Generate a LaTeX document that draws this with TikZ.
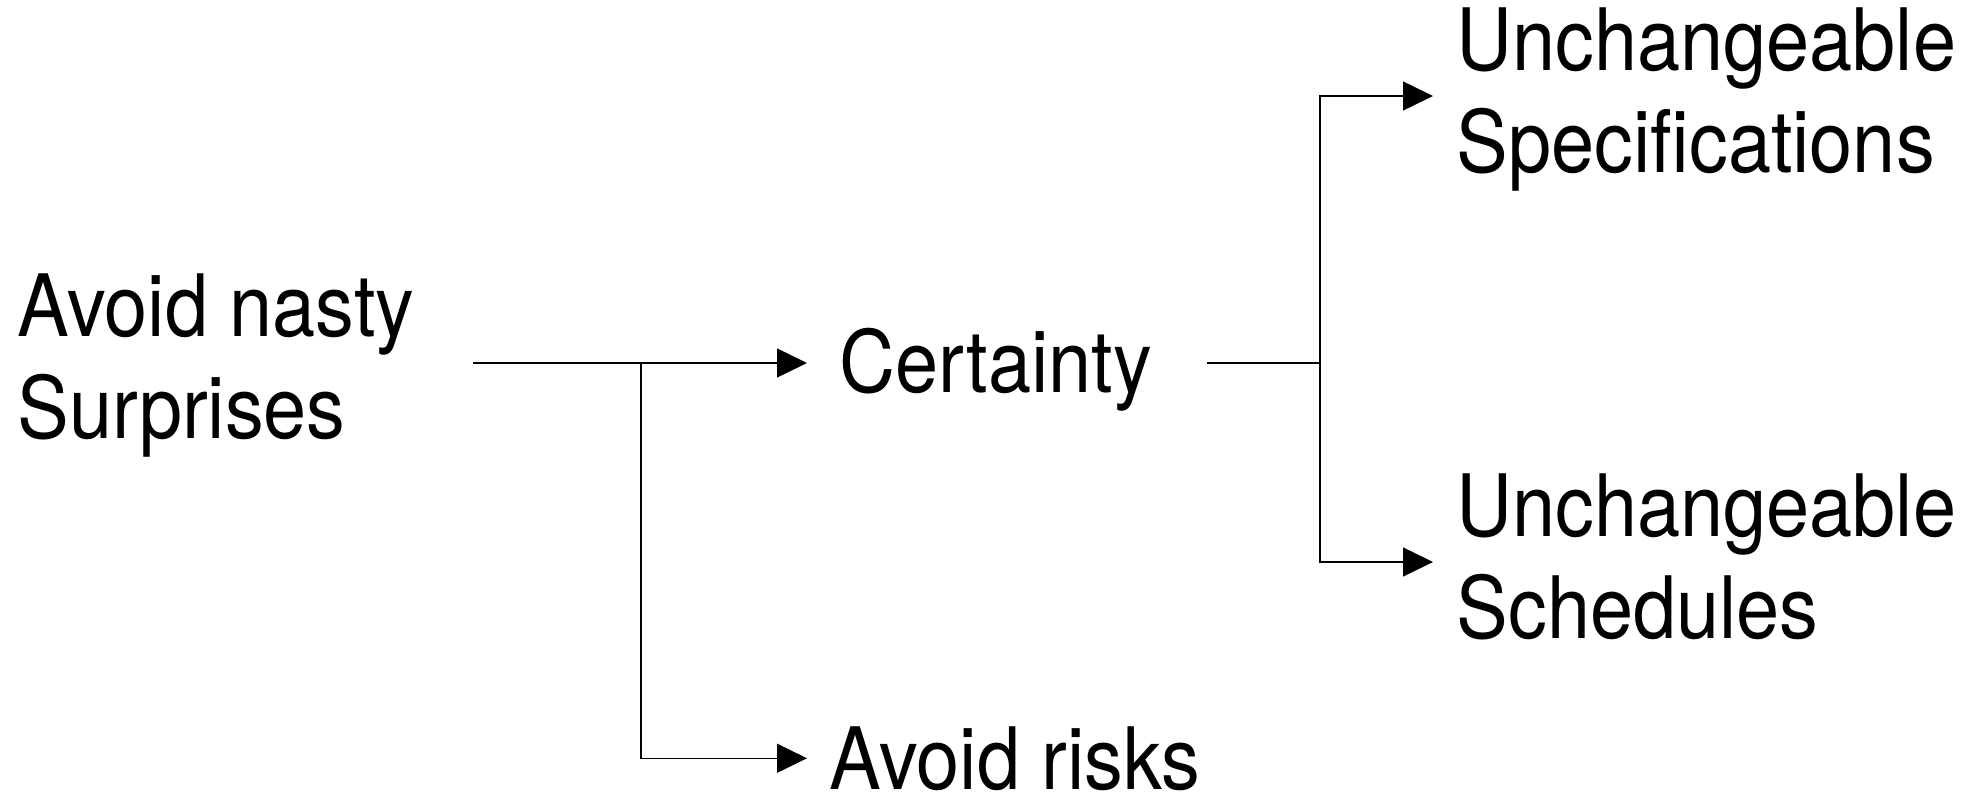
\documentclass[tikz,border=0pt]{standalone}
\usepackage{fontspec}
\setmainfont{TeX Gyre Heros}[FakeStretch=0.90]
\usetikzlibrary{calc,arrows.meta,positioning}

\begin{document}
\begin{tikzpicture}[
    label/.style={inner sep=0pt, anchor=base west, align=left,
      font=\fontsize{24.5}{29}\selectfont},
    link/.style={thin},
    arrow/.style={thin, -{Triangle[length=3mm, width=2.9mm]}}
  ]
    \useasboundingbox (0,0) rectangle (19.75,-7.91);
    \node[label] (root) at (0.17,-4.38) {Avoid nasty\\Surprises};
    \node[label] (cert) at (8.39,-3.92) {Certainty};
    \node[label] (risks) at (8.29,-7.89) {Avoid risks};
    \node[label] (spec) at (14.56,-1.72) {Unchangeable\\Specifications};
    \node[label] (sched) at (14.56,-6.38) {Unchangeable\\Schedules};
    \coordinate (fork1) at (6.41,-3.63);
    \coordinate (fork2) at (13.20,-3.63);
    \draw[link] (4.73,-3.63) -- (fork1);
    \draw[arrow, shorten >=3.2mm] (fork1) -- (fork1 -| cert.west);
    \draw[arrow, shorten >=2.2mm] (fork1) |- (risks);
    \draw[link] ($(cert.east |- fork2)+(0.54,0)$) -- (fork2);
    \draw[arrow, shorten >=2.3mm] (fork2) |- ([yshift=7.6mm]spec.base west);
    \draw[arrow, shorten >=2.3mm] (fork2) |- ([yshift=7.6mm]sched.base west);
\end{tikzpicture}
\end{document}
